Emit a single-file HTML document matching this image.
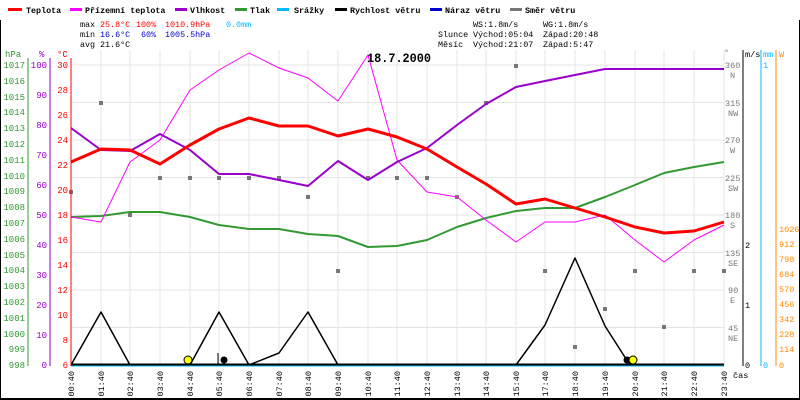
<!DOCTYPE html>
<html><head><meta charset="utf-8"><style>
html,body{margin:0;padding:0;background:#fff}
svg{display:block;font-family:"Liberation Mono",monospace}
</style></head><body>
<svg width="800" height="400" viewBox="0 0 800 400" xmlns="http://www.w3.org/2000/svg">
<rect x="0" y="0" width="800" height="400" fill="#fff"/>
<line x1="0.5" y1="20" x2="0.5" y2="400" stroke="#000"/>
<line x1="0" y1="399" x2="800" y2="399" stroke="#000" stroke-width="2"/>
<line x1="799.5" y1="20" x2="799.5" y2="400" stroke="#000"/>
<!-- legend -->
<g font-size="8.4" font-weight="bold" fill="#000">
<rect x="8" y="8" width="14" height="3" fill="#f00"/><text x="26" y="13">Teplota</text>
<rect x="70" y="8" width="12" height="3" fill="#f0f"/><text x="85" y="13">Přízemní teplota</text>
<rect x="175" y="8" width="12" height="3" fill="#90c"/><text x="190" y="13">Vlhkost</text>
<rect x="235" y="8" width="12" height="3" fill="#393"/><text x="250" y="13">Tlak</text>
<rect x="277" y="8" width="12" height="3" fill="#0bf"/><text x="294" y="13">Srážky</text>
<rect x="335" y="8" width="12" height="3" fill="#000"/><text x="350" y="13">Rychlost větru</text>
<rect x="430" y="8" width="12" height="3" fill="#00c"/><text x="445" y="13">Náraz větru</text>
<rect x="510" y="8" width="12" height="3" fill="#777"/><text x="525" y="13">Směr větru</text>
</g>
<g font-size="8.4" fill="#000">
<text x="80" y="27">max</text><text x="100" y="27" fill="#f00">25.8°C</text><text x="136" y="27" fill="#f00">100%</text><text x="165" y="27" fill="#f00">1010.9hPa</text><text x="226" y="27" fill="#0bf">0.0mm</text>
<text x="80" y="37">min</text><text x="100" y="37" fill="#00c">16.6°C</text><text x="141" y="37" fill="#00c">60%</text><text x="165" y="37" fill="#00c">1005.5hPa</text>
<text x="80" y="47">avg</text><text x="100" y="47">21.6°C</text>
<text x="473" y="27">WS:1.8m/s</text><text x="543" y="27">WG:1.8m/s</text>
<text x="438" y="37">Slunce</text><text x="473" y="37">Východ:05:04</text><text x="543" y="37">Západ:20:48</text>
<text x="438" y="47">Měsíc</text><text x="473" y="47">Východ:21:07</text><text x="543" y="47">Západ:5:47</text>
</g>
<!-- grid -->
<g stroke="#e4e4e4" stroke-width="1">
<line x1="71" y1="65" x2="724" y2="65"/><line x1="71" y1="102.5" x2="724" y2="102.5"/><line x1="71" y1="140" x2="724" y2="140"/><line x1="71" y1="177.5" x2="724" y2="177.5"/><line x1="71" y1="215" x2="724" y2="215"/><line x1="71" y1="252.5" x2="724" y2="252.5"/><line x1="71" y1="290" x2="724" y2="290"/><line x1="71" y1="327.5" x2="724" y2="327.5"/>
<line x1="101" y1="50" x2="101" y2="365"/><line x1="130" y1="50" x2="130" y2="365"/><line x1="160" y1="50" x2="160" y2="365"/><line x1="190" y1="50" x2="190" y2="365"/><line x1="219" y1="50" x2="219" y2="365"/><line x1="249" y1="50" x2="249" y2="365"/><line x1="279" y1="50" x2="279" y2="365"/><line x1="308" y1="50" x2="308" y2="365"/><line x1="338" y1="50" x2="338" y2="365"/><line x1="368" y1="50" x2="368" y2="365"/><line x1="397" y1="50" x2="397" y2="365"/><line x1="427" y1="50" x2="427" y2="365"/><line x1="457" y1="50" x2="457" y2="365"/><line x1="486" y1="50" x2="486" y2="365"/><line x1="516" y1="50" x2="516" y2="365"/><line x1="545" y1="50" x2="545" y2="365"/><line x1="575" y1="50" x2="575" y2="365"/><line x1="605" y1="50" x2="605" y2="365"/><line x1="635" y1="50" x2="635" y2="365"/><line x1="664" y1="50" x2="664" y2="365"/><line x1="694" y1="50" x2="694" y2="365"/><line x1="724" y1="50" x2="724" y2="365"/>
</g>
<text x="367" y="62" font-size="13" font-weight="bold" fill="#000" textLength="64" lengthAdjust="spacingAndGlyphs">18.7.2000</text>
<!-- direction squares -->
<g fill="#777">
<rect x="69" y="190" width="4" height="4"/><rect x="99" y="101" width="4" height="4"/><rect x="128" y="213" width="4" height="4"/><rect x="158" y="176" width="4" height="4"/><rect x="188" y="176" width="4" height="4"/><rect x="217" y="176" width="4" height="4"/><rect x="247" y="176" width="4" height="4"/><rect x="277" y="176" width="4" height="4"/><rect x="306" y="195" width="4" height="4"/><rect x="336" y="269" width="4" height="4"/><rect x="366" y="176" width="4" height="4"/><rect x="395" y="176" width="4" height="4"/><rect x="425" y="176" width="4" height="4"/><rect x="455" y="195" width="4" height="4"/><rect x="484" y="101" width="4" height="4"/><rect x="514" y="64" width="4" height="4"/><rect x="543" y="269" width="4" height="4"/><rect x="573" y="345" width="4" height="4"/><rect x="603" y="307" width="4" height="4"/><rect x="633" y="269" width="4" height="4"/><rect x="662" y="325" width="4" height="4"/><rect x="692" y="269" width="4" height="4"/><rect x="722" y="269" width="4" height="4"/>
</g>
<g fill="none" stroke-linejoin="round">
<polyline stroke="#393" stroke-width="2" points="71,217 101,216 130,212 160,212 190,217 219,225 249,229 279,229 308,234 338,236 368,247 397,246 427,240 457,227 486,218 516,211 545,208 575,208 605,197 635,185 664,173 694,167 724,162"/>
<polyline stroke="#f0f" stroke-width="1" points="71,217 101,222 130,162 160,140 190,90 219,70 249,53 279,68 308,78 338,101 368,55 397,160 427,192 457,197 486,220 516,242 545,222 575,222 605,215 635,240 664,262 694,240 724,225"/>
<polyline stroke="#90c" stroke-width="2" points="71,128 101,150 130,151 160,134 190,150 219,174 249,174 279,180 308,186 338,161 368,180 397,162 427,148 457,125 486,104 516,87 545,81 575,75 605,69 635,69 664,69 694,69 724,69"/>
<polyline stroke="#f00" stroke-width="3" points="71,162 101,149 130,150 160,164 190,145 219,129 249,118 279,126 308,126 338,136 368,129 397,137 427,149 457,167 486,184 516,204 545,199 575,208 605,217 635,227 664,233 694,231 724,222"/>
<polyline stroke="#000" stroke-width="1.5" points="71,365 101,312 130,365 160,365 190,365 219,312 249,365 279,353 308,312 338,365"/>
<polyline stroke="#000" stroke-width="1.5" points="516,365 545,325 575,258 605,326 628,362 635,365"/>
</g>
<line x1="71" y1="365" x2="724" y2="365" stroke="#000" stroke-width="3"/>
<line x1="71" y1="366" x2="724" y2="366" stroke="#0bf" stroke-width="1"/>
<circle cx="188" cy="360" r="4" fill="#ff0" stroke="#000"/>
<circle cx="224" cy="360" r="3.5" fill="#000"/>
<line x1="218" y1="353" x2="218" y2="365" stroke="#000"/>
<circle cx="627" cy="360" r="3.5" fill="#000"/>
<circle cx="633" cy="360" r="4" fill="#ff0" stroke="#000"/>
<!-- left axes -->
<g font-size="9">
<line x1="28" y1="58" x2="28" y2="366" stroke="#393"/>
<line x1="50" y1="58" x2="50" y2="366" stroke="#90c"/>
<line x1="71" y1="58" x2="71" y2="366" stroke="#f00"/>
<text x="5" y="57" fill="#393">hPa</text><text x="39" y="57" fill="#90c">%</text><text x="57" y="57" fill="#f00">°C</text>
<g fill="#393" text-anchor="end">
<text x="25" y="68">1017</text><text x="25" y="84">1016</text><text x="25" y="100">1015</text><text x="25" y="115">1014</text><text x="25" y="131">1013</text><text x="25" y="147">1012</text><text x="25" y="163">1011</text><text x="25" y="179">1010</text><text x="25" y="194">1009</text><text x="25" y="210">1008</text><text x="25" y="226">1007</text><text x="25" y="242">1006</text><text x="25" y="258">1005</text><text x="25" y="273">1004</text><text x="25" y="289">1003</text><text x="25" y="305">1002</text><text x="25" y="321">1001</text><text x="25" y="337">1000</text><text x="25" y="352">999</text><text x="25" y="368">998</text>
</g>
<g fill="#90c" text-anchor="end">
<text x="47" y="68">100</text><text x="47" y="98">90</text><text x="47" y="128">80</text><text x="47" y="158">70</text><text x="47" y="188">60</text><text x="47" y="218">50</text><text x="47" y="248">40</text><text x="47" y="278">30</text><text x="47" y="308">20</text><text x="47" y="338">10</text><text x="47" y="368">0</text>
</g>
<g fill="#f00" text-anchor="end">
<text x="68" y="68">30</text><text x="68" y="93">28</text><text x="68" y="118">26</text><text x="68" y="143">24</text><text x="68" y="168">22</text><text x="68" y="193">20</text><text x="68" y="218">18</text><text x="68" y="243">16</text><text x="68" y="268">14</text><text x="68" y="293">12</text><text x="68" y="318">10</text><text x="68" y="343">8</text><text x="68" y="368">6</text>
</g>
</g>
<!-- right axes -->
<g font-size="8.5">
<line x1="743" y1="50" x2="743" y2="366" stroke="#000"/>
<line x1="761" y1="50" x2="761" y2="366" stroke="#0bf"/>
<line x1="776" y1="50" x2="776" y2="366" stroke="#f80"/>
<text x="724" y="55" fill="#777">°</text>
<text x="745" y="57" fill="#000">m/s</text><text x="763" y="57" fill="#0bf">mm</text><text x="779" y="57" fill="#f80">W</text>
<g fill="#777">
<text x="725" y="68">360</text><text x="730" y="78">N</text>
<text x="725" y="106">315</text><text x="728" y="116">NW</text>
<text x="725" y="143">270</text><text x="730" y="153">W</text>
<text x="725" y="181">225</text><text x="728" y="191">SW</text>
<text x="725" y="218">180</text><text x="730" y="228">S</text>
<text x="725" y="256">135</text><text x="728" y="266">SE</text>
<text x="728" y="293">90</text><text x="730" y="303">E</text>
<text x="728" y="331">45</text><text x="728" y="341">NE</text>
</g>
<g fill="#000"><text x="745" y="248">2</text><text x="745" y="308">1</text><text x="745" y="368">0</text></g>
<g fill="#0bf"><text x="763" y="68">1</text><text x="763" y="368">0</text></g>
<g fill="#f80">
<text x="779" y="232">1026</text><text x="779" y="247">912</text><text x="779" y="262">798</text><text x="779" y="277">684</text><text x="779" y="292">570</text><text x="779" y="307">456</text><text x="779" y="322">342</text><text x="779" y="337">228</text><text x="779" y="352">114</text><text x="779" y="368">0</text>
</g>
<text x="733" y="378" fill="#000">čas</text>
</g>
<!-- time labels -->
<g font-size="8.5" fill="#000" text-anchor="end">
<text transform="translate(74,371) rotate(-90)">00:40</text><text transform="translate(104,371) rotate(-90)">01:40</text><text transform="translate(133,371) rotate(-90)">02:40</text><text transform="translate(163,371) rotate(-90)">03:40</text><text transform="translate(193,371) rotate(-90)">04:40</text><text transform="translate(222,371) rotate(-90)">05:40</text><text transform="translate(252,371) rotate(-90)">06:40</text><text transform="translate(282,371) rotate(-90)">07:40</text><text transform="translate(311,371) rotate(-90)">08:40</text><text transform="translate(341,371) rotate(-90)">09:40</text><text transform="translate(371,371) rotate(-90)">10:40</text><text transform="translate(400,371) rotate(-90)">11:40</text><text transform="translate(430,371) rotate(-90)">12:40</text><text transform="translate(460,371) rotate(-90)">13:40</text><text transform="translate(489,371) rotate(-90)">14:40</text><text transform="translate(519,371) rotate(-90)">15:40</text><text transform="translate(548,371) rotate(-90)">17:40</text><text transform="translate(578,371) rotate(-90)">18:40</text><text transform="translate(608,371) rotate(-90)">19:40</text><text transform="translate(638,371) rotate(-90)">20:40</text><text transform="translate(667,371) rotate(-90)">21:40</text><text transform="translate(697,371) rotate(-90)">22:40</text><text transform="translate(727,371) rotate(-90)">23:40</text>
</g>
</svg>
</body></html>
